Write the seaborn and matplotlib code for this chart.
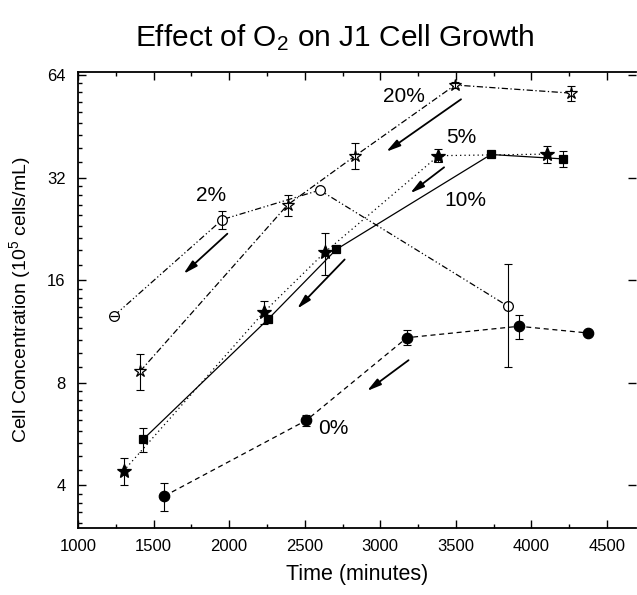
import numpy as np
import pandas as pd
import matplotlib
matplotlib.use('Agg')
import matplotlib.pyplot as plt
import seaborn as sns
from matplotlib.ticker import FixedLocator, NullFormatter, MultipleLocator

# time (minutes) vs cell concentration (10^5 cells/mL), one set per O2 level
t_0 = [1570, 2511, 3176, 3917, 4375]
c_0 = [3.72, 6.21, 10.85, 11.72, 11.2]
e_0 = [0.35, 0.23, 0.55, 0.95, np.nan]

t_2 = [1240, 1955, 2599, 3847]
c_2 = [12.6, 24.1, 29.4, 13.4]
e_2 = [np.nan, 1.5, np.nan, 4.5]

t_5 = [1301, 2230, 2632, 3385, 4104]
c_5 = [4.41, 12.9, 19.3, 37.1, 37.5]
e_5 = [0.4, 1.0, 2.7, 1.6, 2.1]

t_10 = [1431, 2258, 2709, 3732, 4210]
c_10 = [5.46, 12.3, 19.7, 37.4, 36.3]
e_10 = [0.45, np.nan, np.nan, np.nan, 2.0]

t_20 = [1411, 2386, 2835, 3495, 4265]
c_20 = [8.65, 26.6, 37.1, 59.8, 56.6]
e_20 = [1.05, 1.9, 3.2, 1.2, 3.0]

y_ticks = [4, 8, 16, 32, 64]

sns.set_theme(style='ticks')
plt.rcParams['font.family'] = ['Liberation Sans', 'DejaVu Sans']
plt.rcParams['mathtext.fontset'] = 'custom'
plt.rcParams['mathtext.rm'] = 'Liberation Sans'
plt.rcParams['mathtext.it'] = 'Liberation Sans:italic'
for k in ['text.color', 'axes.labelcolor', 'xtick.color', 'ytick.color', 'axes.edgecolor']:
    plt.rcParams[k] = 'black'

fig = plt.figure(figsize=(6.37, 5.95), dpi=100)
ax = fig.add_axes([0.1225, 0.1126, 0.8755, 0.7664])

def draw(t, c, e, ls, marker, ms, face):
    sns.lineplot(x=t, y=c, ax=ax, sort=False, estimator=None, color='black',
                 linewidth=0.9, linestyle=ls, marker=marker, markersize=ms,
                 markerfacecolor=face, markeredgecolor='black', markeredgewidth=0.9)
    t = np.array(t); c = np.array(c); e = np.array(e)
    m = ~np.isnan(e)
    ax.errorbar(t[m], c[m], yerr=e[m], fmt='none', ecolor='black',
                elinewidth=0.8, capsize=3, capthick=0.8)

draw(t_0, c_0, e_0, (0, (4, 3)), 'o', 7.5, 'black')
draw(t_2, c_2, e_2, (0, (5, 2, 1, 2, 1, 2)), 'o', 7, 'white')
ax.plot(t_2[0], c_2[0], marker='_', ms=6, mew=0.9, color='black')
draw(t_20, c_20, e_20, (0, (5, 2, 1, 2)), '*', 9, 'white')
draw(t_5, c_5, e_5, (0, (1, 2.5)), '*', 10, 'black')
draw(t_10, c_10, e_10, '-', 's', 6, 'black')

# direction arrows
arrows = [((1988, 21.9), (1698, 16.7)),
          ((3534, 54.3), (3039, 38.1)),
          ((3422, 34.3), (3198, 28.8)),
          ((2764, 18.4), (2450, 13.2)),
          ((3187, 9.32), (2912, 7.57))]
for start, end in arrows:
    ax.annotate('', xy=end, xytext=start,
                arrowprops=dict(arrowstyle='-|>,head_length=0.7,head_width=0.18',
                                color='black', lw=1.3, shrinkA=0, shrinkB=0))

for txt, pos in [('2%', (1878, 28.4)), ('20%', (3154, 55.3)), ('5%', (3534, 42.0)),
                 ('10%', (3565, 27.4)), ('0%', (2692, 5.87))]:
    ax.text(pos[0], pos[1], txt, fontsize=15, ha='center', va='center')

ax.set_yscale('log', base=2)
ax.set_ylim(3.0, 65.3)
ax.set_xlim(1000, 4690)
ax.yaxis.set_major_locator(FixedLocator(y_ticks))
ax.set_yticklabels([str(v) for v in y_ticks])
minors = [b * (1 + k / 9) for b in [2, 4, 8, 16, 32] for k in range(1, 9)]
ax.yaxis.set_minor_locator(FixedLocator(minors))
ax.yaxis.set_minor_formatter(NullFormatter())
ax.xaxis.set_major_locator(MultipleLocator(500))
ax.xaxis.set_minor_locator(MultipleLocator(250))

ax.tick_params(which='both', direction='in', top=True, right=True, width=1.0)
ax.tick_params(which='major', length=6, labelsize=12)
ax.tick_params(axis='y', which='minor', right=False)
ax.tick_params(axis='y', which='major', pad=9)
ax.tick_params(axis='x', which='major', pad=8)
ax.tick_params(which='minor', length=3)
for s in ['left', 'bottom', 'top']:
    ax.spines[s].set_linewidth(1.3)
ax.spines['right'].set_visible(False)

ax.set_xlabel('Time (minutes)', fontsize=15.5, labelpad=7)
ax.set_ylabel('Cell Concentration (10$^5$ cells/mL)', fontsize=14, labelpad=10)
fig.text(0.526, 0.936, 'Effect of O$_2$ on J1 Cell Growth', fontsize=21.5,
         ha='center', va='center')

fig.savefig('out.png', dpi=100)
